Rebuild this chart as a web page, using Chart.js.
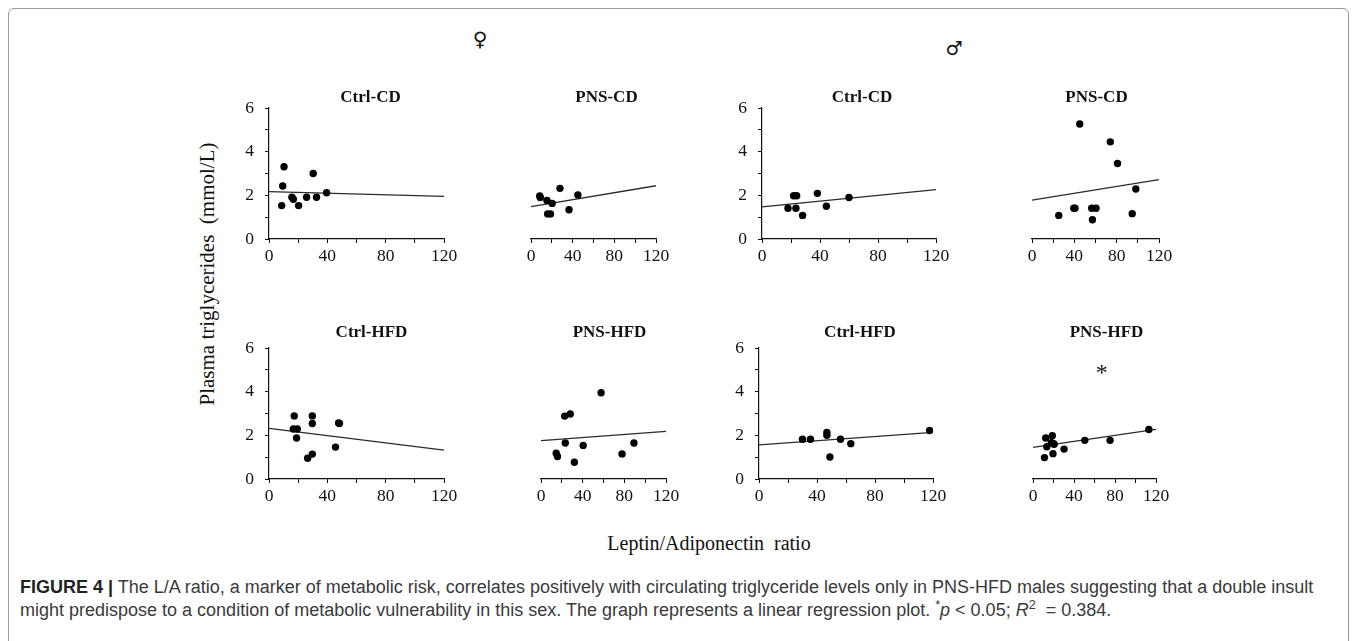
<!DOCTYPE html>
<html>
<head>
<meta charset="utf-8">
<script src="https://cdn.jsdelivr.net/npm/chart.js@4/dist/chart.umd.min.js"></script>
<style>
  html, body { margin: 0; padding: 0; background: #fff; }
  body { width: 1357px; height: 641px; position: relative; overflow: hidden; font-family: "Liberation Serif", "Times New Roman", serif; color: #111; }
  .frame { position: absolute; left: 8px; top: 8px; width: 1339px; height: 700px; border: 1px solid #9a9a9a; border-radius: 6px; }
  .panel { position: absolute; }
  .sex { position: absolute; font-family: "DejaVu Sans", sans-serif; transform: translate(-50%, -50%); color: #111; }
  .ytitle { position: absolute; left: 207px; top: 274px; transform: translate(-50%, -50%) rotate(-90deg); white-space: nowrap; font-size: 21px; }
  .xtitle { position: absolute; left: 709px; top: 543px; transform: translate(-50%, -50%); white-space: nowrap; font-size: 20px; }
  .caption { position: absolute; left: 20px; top: 576px; font-family: "Liberation Sans", Arial, sans-serif; font-size: 18px; line-height: 23px; color: #3a3a3a; white-space: nowrap; }
  .caption b { color: #222; }
  .caption sup { font-size: 70%; line-height: 0; }
</style>
</head>
<body>
<div class="frame"></div>
<div class="sex" style="left:480px; top:39px; font-size:20px;">♀</div>
<div class="sex" style="left:954px; top:48px; font-size:19px; font-weight:bold;">♂</div>
<div class="ytitle">Plasma triglycerides&nbsp; (mmol/L)</div>
<div class="xtitle">Leptin/Adiponectin&nbsp; ratio</div>
<div class="caption"><b>FIGURE 4 |</b> The L/A ratio, a marker of metabolic risk, correlates positively with circulating triglyceride levels only in PNS-HFD males suggesting that a double insult<br>might predispose to a condition of metabolic vulnerability in this sex. The graph represents a linear regression plot. <sup>*</sup><i>p</i> &lt; 0.05; <i>R</i><sup>2</sup> &nbsp;= 0.384.</div>

<script>
// group names and axis tick labels
const groupNames = ['Ctrl-CD', 'PNS-CD', 'Ctrl-HFD', 'PNS-HFD'];
const laTickLabels = [0, 40, 80, 120];
const tgTickLabels = [0, 2, 4, 6];
const fitLA = [0, 120]; // regression lines are drawn across the whole L/A range

// females, control diet
const femCtrlCdLA = [8.7, 9.4, 10.3, 15.7, 16.7, 20.3, 25.8, 30.3, 32.6, 39.5];
const femCtrlCdTG = [1.53, 2.43, 3.31, 1.91, 1.82, 1.53, 1.91, 3.0, 1.91, 2.12];
const femCtrlCdFit = [2.17, 1.95];
const femPnsCdLA = [8.4, 8.9, 15.3, 16.0, 18.7, 20.3, 27.8, 36.5, 45.0];
const femPnsCdTG = [1.97, 1.9, 1.76, 1.15, 1.15, 1.63, 2.32, 1.34, 2.02];
const femPnsCdFit = [1.48, 2.44];

// males, control diet
const malCtrlCdLA = [17.9, 21.8, 23.9, 23.4, 28.0, 38.2, 44.4, 60.0];
const malCtrlCdTG = [1.41, 1.98, 1.98, 1.41, 1.08, 2.09, 1.5, 1.9];
const malCtrlCdFit = [1.47, 2.26];
const malPnsCdLA = [25.3, 39.5, 40.6, 45.1, 56.4, 57.1, 60.5, 74.0, 80.8, 94.7, 98.1];
const malPnsCdTG = [1.08, 1.41, 1.41, 5.27, 1.41, 0.88, 1.41, 4.45, 3.46, 1.16, 2.29];
const malPnsCdFit = [1.78, 2.72];

// females, high-fat diet
const femCtrlHfdLA = [16.7, 17.3, 18.9, 19.4, 26.5, 29.7, 29.7, 29.7, 45.6, 47.7, 48.3];
const femCtrlHfdTG = [2.29, 2.89, 1.88, 2.29, 0.95, 2.89, 2.54, 1.14, 1.46, 2.57, 2.54];
const femCtrlHfdFit = [2.32, 1.32];
const femPnsHfdLA = [14.6, 15.8, 22.7, 23.3, 28.1, 32.0, 40.5, 57.7, 77.8, 89.2];
const femPnsHfdTG = [1.18, 1.03, 2.88, 1.65, 2.98, 0.77, 1.54, 3.95, 1.15, 1.65];
const femPnsHfdFit = [1.76, 2.18];

// males, high-fat diet
const malCtrlHfdLA = [30.0, 35.5, 46.8, 46.8, 48.9, 56.2, 63.3, 117.7];
const malCtrlHfdTG = [1.82, 1.82, 2.13, 2.0, 1.01, 1.82, 1.62, 2.22];
const malCtrlHfdFit = [1.56, 2.14];
const malPnsHfdLA = [11.2, 12.4, 13.5, 17.9, 18.8, 19.5, 20.0, 20.6, 30.3, 50.5, 75.2, 113.0];
const malPnsHfdTG = [0.98, 1.88, 1.48, 1.66, 1.98, 1.16, 1.62, 1.59, 1.37, 1.77, 1.77, 2.27];
const malPnsHfdFit = [1.45, 2.27];

// significance mark for PNS-HFD males
const sigMark = { x: 67, y: 5.0, text: '*' };

Chart.defaults.font.family = '"Liberation Serif", "Times New Roman", serif';
Chart.defaults.color = '#111';

// space around each plot area inside its canvas
const LW = 50, PT = 40, PR = 22, XH = 30;

// draws the group title above the plot and the optional asterisk
const panelText = {
  id: 'panelText',
  afterDraw(chart, args, opts) {
    const { ctx, chartArea, scales } = chart;
    ctx.save();
    ctx.fillStyle = '#111';
    ctx.textAlign = 'center';
    ctx.textBaseline = 'middle';
    ctx.font = 'bold 17px "Liberation Serif", serif';
    ctx.fillText(opts.title, (chartArea.left + chartArea.right) / 2 + opts.dx, chartArea.top - opts.dy);
    if (opts.mark) {
      ctx.font = '24px "Liberation Serif", serif';
      ctx.fillText(opts.mark.text, scales.x.getPixelForValue(opts.mark.x), scales.y.getPixelForValue(opts.mark.y) + 4);
    }
    ctx.restore();
  }
};

const panels = [
  { la: femCtrlCdLA, tg: femCtrlCdTG, fit: femCtrlCdFit, title: groupNames[0], x0: 269, x1: 444, yT: 108, yB: 239, showY: true, dx: 14, dy: 10 },
  { la: femPnsCdLA, tg: femPnsCdTG, fit: femPnsCdFit, title: groupNames[1], x0: 481, x1: 656, yT: 108, yB: 239, showY: false, dx: 13, dy: 10 },
  { la: malCtrlCdLA, tg: malCtrlCdTG, fit: malCtrlCdFit, title: groupNames[0], x0: 762, x1: 936, yT: 108, yB: 239, showY: true, dx: 13, dy: 10 },
  { la: malPnsCdLA, tg: malPnsCdTG, fit: malPnsCdFit, title: groupNames[1], x0: 982, x1: 1159, yT: 108, yB: 239, showY: false, dx: 1, dy: 10 },
  { la: femCtrlHfdLA, tg: femCtrlHfdTG, fit: femCtrlHfdFit, title: groupNames[2], x0: 269, x1: 444, yT: 348, yB: 479, showY: true, dx: 15, dy: 15 },
  { la: femPnsHfdLA, tg: femPnsHfdTG, fit: femPnsHfdFit, title: groupNames[3], x0: 491, x1: 666, yT: 348, yB: 479, showY: false, dx: 6, dy: 15 },
  { la: malCtrlHfdLA, tg: malCtrlHfdTG, fit: malCtrlHfdFit, title: groupNames[2], x0: 759, x1: 933, yT: 348, yB: 479, showY: true, dx: 14, dy: 15 },
  { la: malPnsHfdLA, tg: malPnsHfdTG, fit: malPnsHfdFit, title: groupNames[3], x0: 983, x1: 1156, yT: 348, yB: 479, showY: false, dx: 12, dy: 15, mark: sigMark }
];

function drawPanel(p) {
  const canvas = document.createElement('canvas');
  canvas.className = 'panel';
  canvas.width = LW + (p.x1 - p.x0) + PR;
  canvas.height = PT + (p.yB - p.yT) + XH;
  canvas.style.left = (p.x0 - LW) + 'px';
  canvas.style.top = (p.yT - PT) + 'px';
  document.body.appendChild(canvas);

  new Chart(canvas, {
    type: 'scatter',
    data: {
      datasets: [
        {
          data: p.la.map((v, i) => ({ x: v, y: p.tg[i] })),
          pointRadius: 3.7,
          pointBackgroundColor: '#000',
          pointBorderWidth: 0
        },
        {
          type: 'line',
          data: fitLA.map((v, i) => ({ x: v, y: p.fit[i] })),
          borderColor: '#2a2a2a',
          borderWidth: 1.3,
          pointRadius: 0,
          fill: false
        }
      ]
    },
    options: {
      responsive: false,
      animation: false,
      layout: { padding: { left: p.showY ? 0 : LW, top: PT, right: PR, bottom: 0 } },
      plugins: {
        legend: { display: false },
        tooltip: { enabled: false },
        panelText: { title: p.title, dx: p.dx, dy: p.dy, mark: p.mark }
      },
      scales: {
        x: {
          type: 'linear',
          min: 0,
          max: 120,
          afterFit: s => { s.height = XH; },
          ticks: {
            stepSize: 20,
            autoSkip: false,
            maxRotation: 0,
            padding: 3,
            color: '#111',
            font: { size: 17.5 },
            callback: v => laTickLabels.includes(v) ? v : ''
          },
          grid: { drawOnChartArea: false, tickLength: 4, color: '#111' },
          border: { color: '#111', width: 1.2 }
        },
        y: {
          display: p.showY,
          min: 0,
          max: 6,
          afterFit: s => { s.width = LW; },
          ticks: {
            stepSize: 1,
            autoSkip: false,
            padding: 11,
            color: '#111',
            font: { size: 17.5 },
            callback: v => tgTickLabels.includes(v) ? v : ''
          },
          grid: { drawOnChartArea: false, tickLength: 4, color: '#111' },
          border: { color: '#111', width: 1.2 }
        }
      }
    },
    plugins: [panelText]
  });
}

panels.forEach(drawPanel);
</script>
</body>
</html>
